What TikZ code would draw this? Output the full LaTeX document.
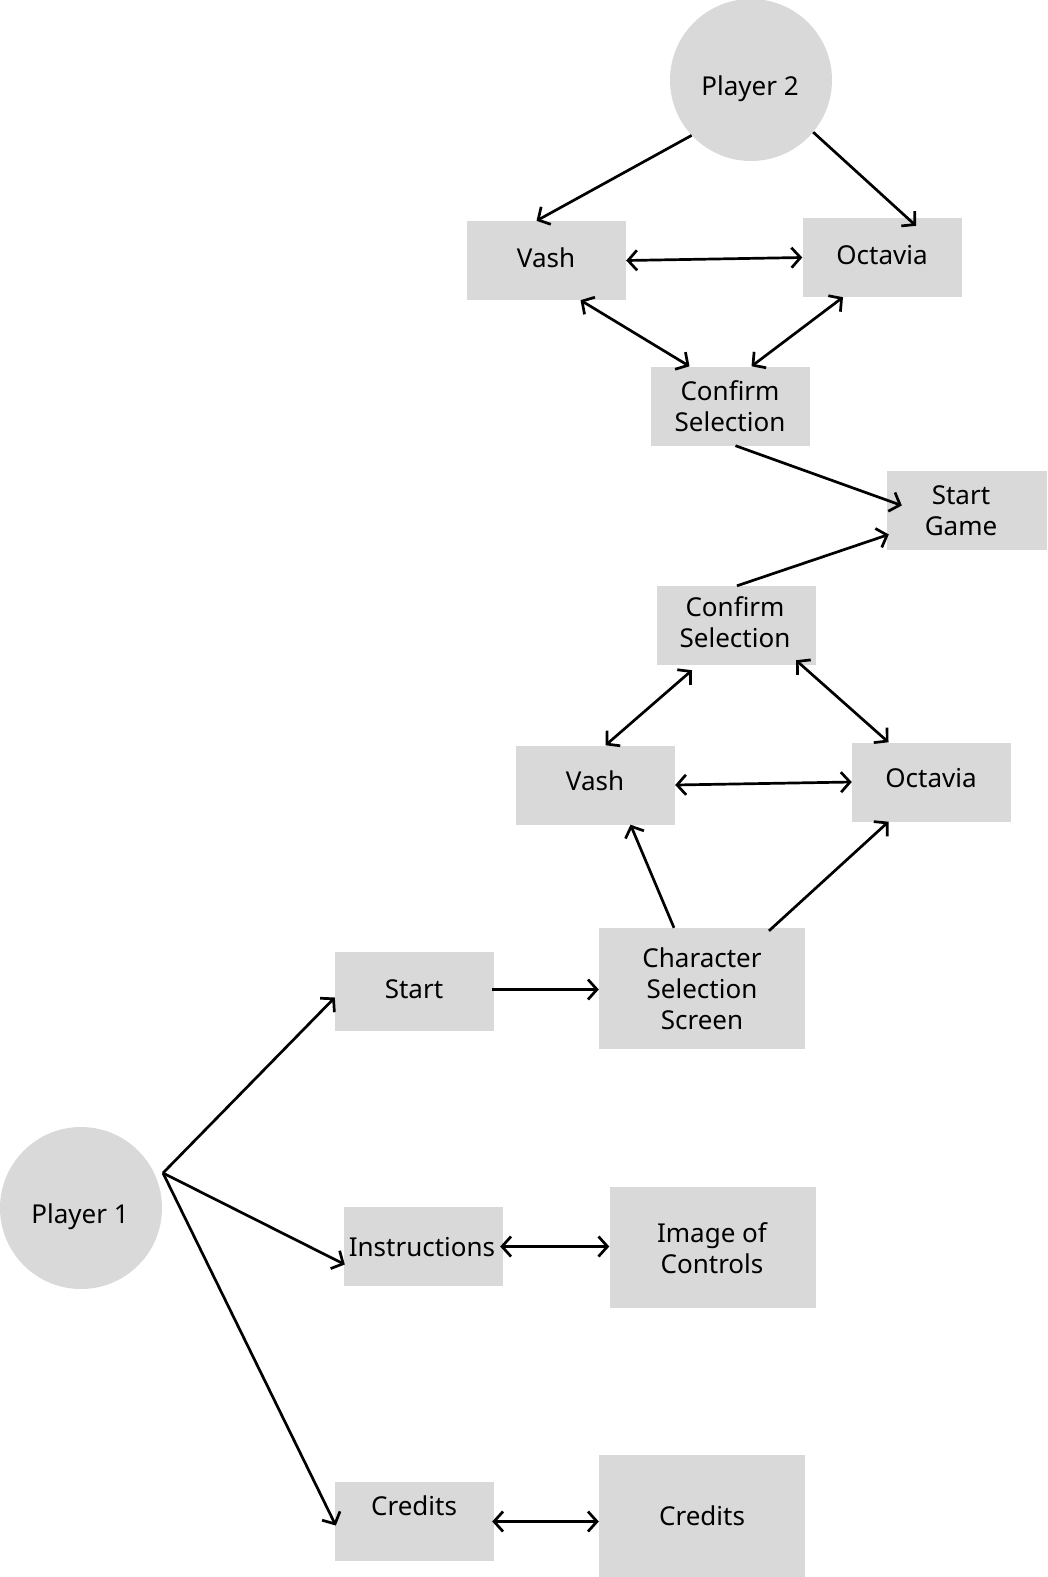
\documentclass[tikz,border=0pt]{standalone}
\usepackage{fontspec}
\setmainfont{Noto Sans}
\usetikzlibrary{arrows.meta,calc}
\definecolor{boxgray}{HTML}{D9D9D9}
\begin{document}
\begin{tikzpicture}[x=1pt,y=-1pt,
  box/.style={fill=boxgray,draw=none,minimum width=159pt,minimum height=79pt,inner sep=0pt,anchor=center},
  bigbox/.style={box,minimum width=206pt,minimum height=121pt},
  circ/.style={circle,fill=boxgray,draw=none,minimum size=162pt,inner sep=0pt},
  txt/.style={font=\fontsize{26}{31}\selectfont,align=center,inner sep=0pt},
  tip/.style={Straight Barb[length=9pt,width=20pt,line width=2.7pt]},
  con/.style={line width=2.7pt,-{Straight Barb[length=9pt,width=20pt,line width=2.7pt]}},
  bicon/.style={line width=2.7pt,{Straight Barb[length=9pt,width=20pt,line width=2.7pt]}-{Straight Barb[length=9pt,width=20pt,line width=2.7pt]}}
]
\useasboundingbox (0,0) rectangle (1047,1577);
% shapes
\node[circ] (p2) at (751,80) {};
\node[box] (vash1) at (546.5,260.5) {};
\node[box] (oct1) at (882,257.5) {};
\node[box] (conf1) at (730.5,406) {};
\node[box,minimum width=160pt] (sg) at (967,510.5) {};
\node[box] (conf2) at (736,625.5) {};
\node[box] (vash2) at (595.5,785) {};
\node[box] (oct2) at (931.5,782) {};
\node[bigbox] (css) at (702,988.5) {};
\node[box] (start) at (414.5,991.5) {};
\node[circ] (p1) at (81,1208) {};
\node[box] (instr) at (423.5,1246.5) {};
\node[bigbox] (img) at (712.5,1247) {};
\node[box] (cred1) at (414.5,1521.5) {};
\node[bigbox,minimum height=124pt] (cred2) at (702,1517) {};
% texts
\node[txt] (tp2) at (750,89) {Player 2};
\node[txt] (tvash1) at (546,258) {Vash};
\node[txt] (toct1) at (882,255) {Octavia};
\node[txt] (tconf1) at (730,406) {Confirm\\Selection};
\node[txt] (tsg) at (961,511) {Start\\Game};
\node[txt] (tconf2) at (735,622) {Confirm\\Selection};
\node[txt] (tvash2) at (595,781) {Vash};
\node[txt] (toct2) at (931,778) {Octavia};
\node[txt] (tcss) at (702,989) {Character\\Selection\\Screen};
\node[txt] (tstart) at (414,989) {Start};
\node[txt] (tp1) at (80,1217) {Player 1};
\node[txt] (tinstr) at (422,1247) {Instructions};
\node[txt] (timg) at (712,1248) {Image of\\Controls};
\node[txt] (tcred1) at (414,1506) {Credits};
\node[txt] (tcred2) at (702,1516) {Credits};
% hub of Player 1
\coordinate (hub) at ($(p1.center)+(82,-35)$);
% connectors
\draw[con] (p2.223) -- ([xshift=-10pt]vash1.north);
\draw[con] (p2.320) -- ([xshift=34pt,yshift=-8pt]oct1.north);
\draw[bicon] (vash1.east) -- (oct1.west);
\draw[bicon] ([xshift=34pt]vash1.south) -- ([xshift=-41pt]conf1.north);
\draw[bicon] ([xshift=-39pt]oct1.south) -- ([xshift=21pt]conf1.north);
\draw[con] ([xshift=5pt]conf1.south) -- ([xshift=15pt,yshift=5pt]sg.west);
\draw[con] ([xshift=1pt]conf2.north) -- ([xshift=2pt,yshift=-24pt]sg.west);
\draw[bicon] ([xshift=-44pt,yshift=-5pt]conf2.south) -- ([xshift=10pt]vash2.north);
\draw[bicon] ([xshift=60pt,yshift=5pt]conf2.south) -- ([xshift=-43pt]oct2.north);
\draw[bicon] (vash2.east) -- (oct2.west);
\draw[con] ([xshift=-28pt]css.north) -- ([xshift=35pt]vash2.south);
\draw[con] ([xshift=67pt,yshift=-3pt]css.north) -- ([xshift=-43pt]oct2.south);
\draw[con] ([xshift=-2pt,yshift=2pt]start.east) -- ([yshift=2pt]start.east -| css.west);
\draw[con] (hub) -- ([yshift=-6pt]start.west);
\draw[con] (hub) -- ([xshift=1pt,yshift=-18pt]instr.west);
\draw[con] (hub) -- ([xshift=1pt,yshift=-4pt]cred1.west);
\draw[bicon] ([xshift=-3pt]instr.east) -- (instr.east -| img.west);
\draw[bicon] ([xshift=-2pt]cred1.east) -- (cred1.east -| cred2.west);
\end{tikzpicture}
\end{document}
